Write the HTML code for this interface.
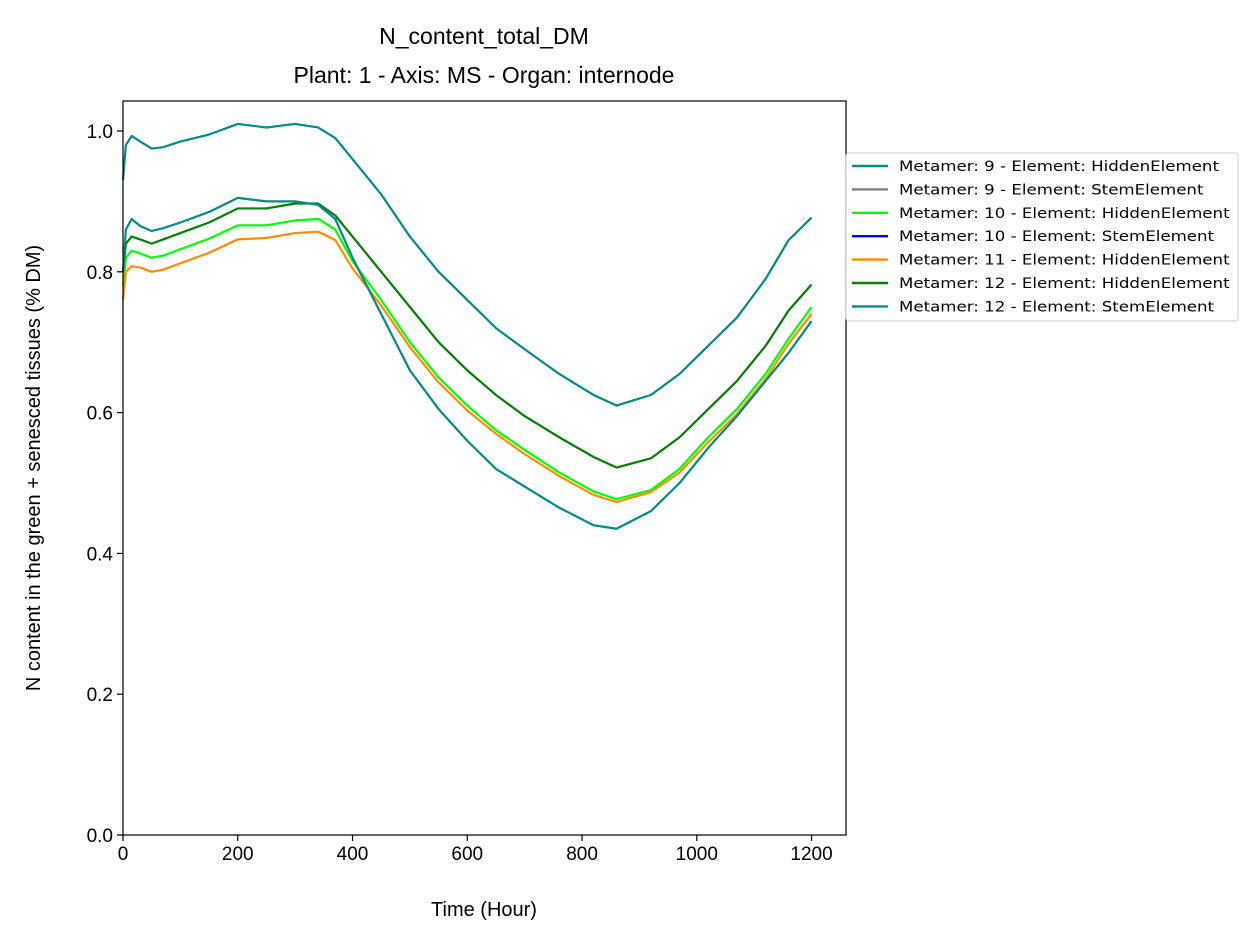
<!DOCTYPE html>
<html><head><meta charset="utf-8"><style>
body{margin:0;background:#fff;}
svg text{font-family:"Liberation Sans","DejaVu Sans",sans-serif;fill:#000;}
svg text.lg{font-family:"DejaVu Sans","Liberation Sans",sans-serif;}
</style></head><body>
<svg id="chart" width="1257" height="943" viewBox="0 0 1257 943"></svg>
<script>
const times=[0,5,15,30,50,70,100,150,200,250,300,340,370,400,450,500,550,600,650,700,760,820,860,920,970,1020,1070,1120,1160,1200];
const sM9Hidden=[0.93,0.98,0.993,0.985,0.975,0.977,0.985,0.995,1.01,1.005,1.01,1.005,0.99,0.96,0.91,0.85,0.80,0.76,0.72,0.69,0.655,0.625,0.61,0.625,0.655,0.695,0.735,0.79,0.845,0.877];
const sM12Stem=[0.80,0.86,0.875,0.865,0.858,0.862,0.87,0.885,0.905,0.9,0.9,0.895,0.875,0.82,0.74,0.66,0.605,0.56,0.52,0.495,0.465,0.44,0.435,0.46,0.5,0.55,0.595,0.645,0.685,0.73];
const sM12Hidden=[0.80,0.84,0.85,0.846,0.84,0.846,0.855,0.87,0.89,0.89,0.897,0.897,0.88,0.85,0.80,0.75,0.70,0.66,0.625,0.595,0.565,0.537,0.522,0.535,0.565,0.605,0.645,0.695,0.745,0.782];
const sM10Hidden=[0.78,0.82,0.83,0.826,0.82,0.823,0.832,0.847,0.866,0.866,0.873,0.875,0.86,0.815,0.76,0.70,0.65,0.61,0.575,0.547,0.515,0.488,0.477,0.49,0.52,0.565,0.605,0.655,0.705,0.75];
const sM11Hidden=[0.76,0.80,0.808,0.806,0.8,0.803,0.812,0.827,0.846,0.848,0.855,0.857,0.845,0.805,0.752,0.693,0.643,0.603,0.57,0.541,0.51,0.483,0.473,0.487,0.515,0.558,0.598,0.648,0.698,0.74];
const seriesNames=["Metamer: 9 - Element: HiddenElement","Metamer: 9 - Element: StemElement","Metamer: 10 - Element: HiddenElement","Metamer: 10 - Element: StemElement","Metamer: 11 - Element: HiddenElement","Metamer: 12 - Element: HiddenElement","Metamer: 12 - Element: StemElement"];
const seriesColors=["#008b8b","#808080","#00ff00","#0000ff","#ff8c00","#008000","#008b8b"];
const seriesData=[sM9Hidden,null,sM10Hidden,null,sM11Hidden,sM12Hidden,sM12Stem];
const xTicks=[0,200,400,600,800,1000,1200];
const yTicks=[0,0.2,0.4,0.6,0.8,1.0];

const L=123,R=846,T=101,B=835,XMAX=1260,YMAX=1.0426;
const X=v=>L+v/XMAX*(R-L), Y=v=>B-v/YMAX*(B-T);
const svg=document.getElementById('chart');const NS='http://www.w3.org/2000/svg';
function mk(tag,attrs,parent){const e=document.createElementNS(NS,tag);for(const k in attrs)e.setAttribute(k,attrs[k]);(parent||svg).appendChild(e);return e;}
seriesData.forEach((d,i)=>{if(!d)return;
 const p=mk('polyline',{points:d.map((v,j)=>X(times[j])+','+Y(v)).join(' '),fill:'none',stroke:seriesColors[i],'stroke-width':2.2,'stroke-linejoin':'round'});
 
 
});
const frame=mk('rect',{x:L,y:T,width:R-L,height:B-T,fill:'none',stroke:'#000','stroke-width':1.2});


xTicks.forEach(t=>{mk('line',{x1:X(t),x2:X(t),y1:B,y2:B+6,stroke:'#000','stroke-width':1.2});
 const tx=mk('text',{x:X(t),y:B+25,'font-size':19,'text-anchor':'middle'});tx.textContent=t;
 
 });
yTicks.forEach(t=>{mk('line',{x1:L-6,x2:L,y1:Y(t),y2:Y(t),stroke:'#000','stroke-width':1.2});
 const tx=mk('text',{x:L-10,y:Y(t)+7,'font-size':19,'text-anchor':'end'});tx.textContent=t.toFixed(1);
 
 });
let t1=mk('text',{x:484,y:916,'font-size':20,'text-anchor':'middle'});t1.textContent='Time (Hour)';


let t2=mk('text',{x:0,y:0,'font-size':20,'text-anchor':'middle',transform:'translate(40,468) rotate(-90)'});t2.textContent='N content in the green + senesced tissues (% DM)';


let t3=mk('text',{x:484,y:44,'font-size':23,'text-anchor':'middle'});t3.textContent='N_content_total_DM';


let t4=mk('text',{x:484,y:83,'font-size':23,'text-anchor':'middle'});t4.textContent='Plant: 1 - Axis: MS - Organ: internode';


const lg=mk('g',{});


mk('rect',{x:846,y:153,width:392,height:168,fill:'#fff',stroke:'#ccc','stroke-width':1,rx:3},lg);
let scale=null;
seriesNames.forEach((n,i)=>{const y=166+i*23.4;
 mk('line',{x1:852,x2:888,y1:y,y2:y,stroke:seriesColors[i],'stroke-width':2.4},lg);
 const tx=mk('text',{x:899,y:y+5,'font-size':14,'class':'lg'},lg);tx.textContent=n;
 
 
 const w=tx.getComputedTextLength();
 if(scale===null)scale=320/w;
 tx.setAttribute('textLength',(w*scale).toFixed(1));
 tx.setAttribute('lengthAdjust','spacingAndGlyphs');});
</script>
</body></html>
